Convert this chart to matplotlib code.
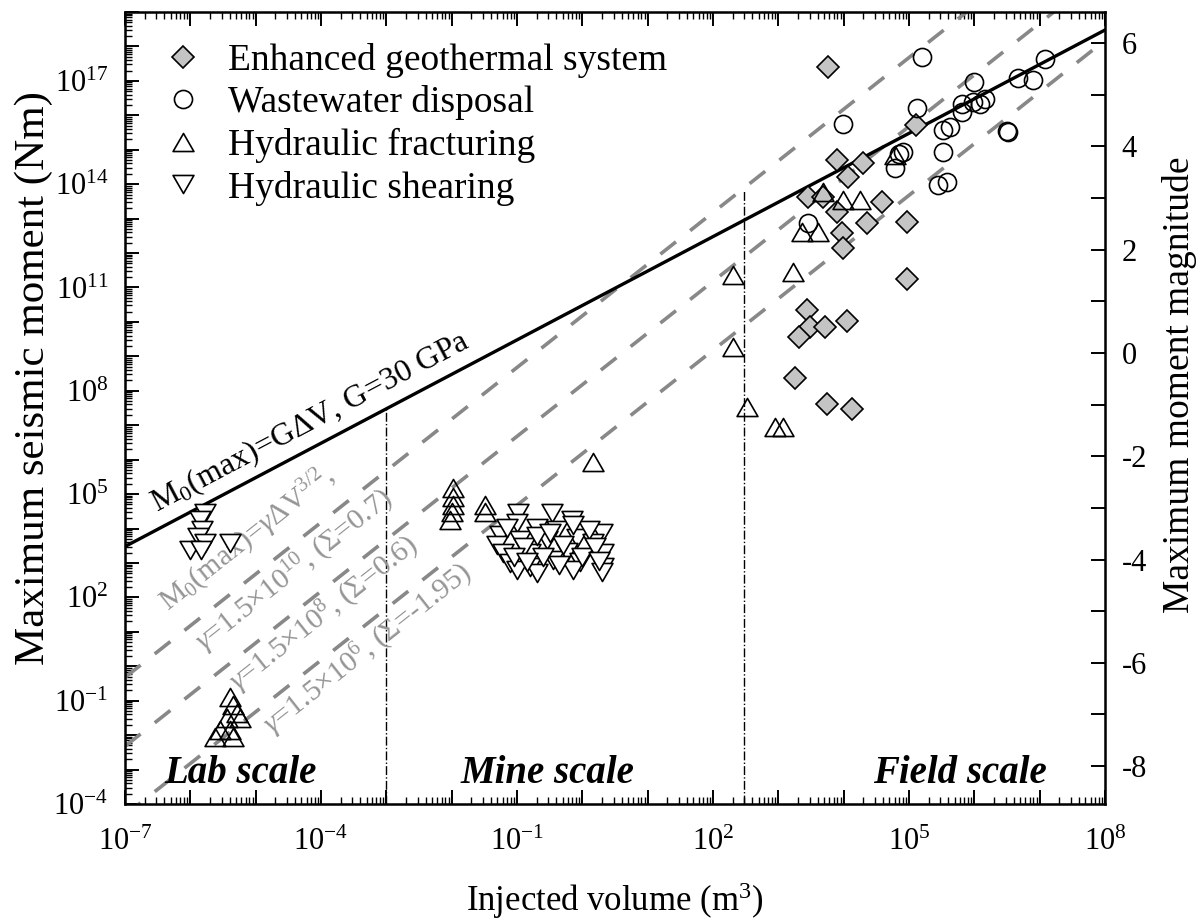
import numpy as np
import matplotlib
matplotlib.use('Agg')
import matplotlib.pyplot as plt
from matplotlib.path import Path
from matplotlib.ticker import FixedLocator, FuncFormatter, LogLocator, MultipleLocator, NullFormatter

plt.rcParams['font.family'] = ['Liberation Serif', 'DejaVu Serif']
plt.rcParams['mathtext.fontset'] = 'custom'
plt.rcParams['mathtext.rm'] = 'Liberation Serif'
plt.rcParams['mathtext.it'] = 'Liberation Serif:italic'
plt.rcParams['mathtext.bf'] = 'Liberation Serif:bold'
plt.rcParams['axes.unicode_minus'] = False

# values stored as log10: injected volume (m3) and max seismic moment (Nm)
egs_logv = [3.76, 5.11, 3.90, 4.30, 4.07, 3.45, 3.68, 3.90, 4.59, 4.36, 3.97,
            3.99, 4.97, 4.97, 3.44, 3.49, 3.71, 4.05, 3.32, 3.26, 3.75, 4.13]
egs_logm = [17.40, 15.73, 14.71, 14.62, 14.21, 13.63, 13.63, 13.20, 13.48, 12.87, 12.59,
            12.15, 12.90, 11.25, 10.34, 9.85, 9.85, 10.03, 9.56, 8.37, 7.62, 7.47]

ww_logv = [5.20, 3.99, 5.12, 6.00, 6.67, 6.90, 7.08, 5.81, 5.81, 5.98, 6.09, 6.16,
           5.52, 5.63, 6.50, 6.52, 5.52, 4.91, 4.85, 4.79, 5.44, 5.58, 3.45]
ww_logm = [17.70, 15.75, 16.22, 16.97, 17.09, 17.03, 17.64, 16.33, 16.10, 16.39, 16.33, 16.48,
           15.58, 15.67, 15.55, 15.52, 14.94, 14.94, 14.88, 14.47, 13.98, 14.07, 12.87]

hf_logv = [-5.39, -5.35, -5.29, -5.44, -5.24, -5.55, -5.39, -5.62, -5.35,
           -1.98, -1.98, -1.98, -2.00, -2.03, -1.49, -1.49, 0.16,
           2.31, 3.22, 2.31, 2.52, 2.95, 3.07, 3.36, 3.61, 3.68, 3.99, 4.25, 4.79]
hf_logm = [-0.89, -1.12, -1.36, -1.51, -1.51, -1.85, -1.85, -2.05, -2.05,
           5.18, 4.91, 4.68, 4.48, 4.25, 4.68, 4.48, 5.93,
           11.36, 11.45, 9.28, 7.53, 6.95, 6.95, 12.61, 12.61, 13.78, 13.54, 13.54, 14.85]

hs_logv = [-5.78, -5.85, -5.82, -5.88, -5.78, -6.00, -5.39, -5.83,
           -0.98, -0.46, -0.16, -1.00, 0.30, -1.26, -0.69, -0.39, -1.31, -0.95, -0.54,
           -0.08, 0.16, -1.21, -0.80, -0.23, 0.32, -1.11, -0.80, -0.45, -0.04, 0.32,
           -1.00, -0.69, -0.14, 0.30, -0.90, -0.60, -0.30, 0.00, -1.15, 0.10, -0.70,
           -0.35, 0.20, -1.05, -0.50, -0.15, -0.85, 0.25]
hs_logm = [4.45, 4.25, 3.95, 3.76, 3.58, 3.38, 3.58, 3.38,
           4.45, 4.45, 4.25, 4.16, 3.87, 3.82, 4.01, 3.95, 3.52, 3.67, 3.67,
           3.73, 3.58, 3.29, 3.29, 3.32, 3.29, 3.00, 2.89, 3.08, 3.03, 2.89,
           2.80, 2.71, 2.80, 2.74, 3.47, 3.17, 3.52, 3.17, 4.01, 3.96, 3.77,
           2.93, 3.47, 3.17, 3.87, 4.11, 3.03, 3.07]

G = 30e9
gammas = [1.5e10, 1.5e8, 1.5e6]
sigmas = ['0.7', '0.6', '-1.95']
gamma_exp = [10, 8, 6]
scale_bounds = [1e-3, 3e2]
bound_tops = [3e7, 7e13]

xlim = (1e-7, 1e8)
ylim = (1e-4, 1e19)


def mw(m0):
    return 2.0 / 3.0 * (np.log10(m0) - 9.1)


W, H = 1204, 924
ax_l, ax_r, ax_t, ax_b = 125, 1105, 12, 804
fig = plt.figure(figsize=(W / 100, H / 100), dpi=100)
ax = fig.add_axes([ax_l / W, (H - ax_b) / H, (ax_r - ax_l) / W, (ax_b - ax_t) / H])
ax.set_xscale('log')
ax.set_yscale('log')
ax.set_xlim(*xlim)
ax.set_ylim(*ylim)

v = np.logspace(-7, 8, 300)
ax.plot(v, G * v, color='black', lw=2.4, zorder=3)
for g in gammas:
    ax.plot(v, g * v ** 1.5, color='#888888', lw=2.6, dashes=(5.5, 5), zorder=2)
for xb, yt in zip(scale_bounds, bound_tops):
    ax.plot([xb, xb], [ylim[0], yt], color='black', lw=1, ls='-.', zorder=2)

tri_up = Path([(0, 0.433), (-0.5, -0.433), (0.5, -0.433), (0, 0.433)], closed=True)
tri_dn = Path([(0, -0.433), (-0.5, 0.433), (0.5, 0.433), (0, -0.433)], closed=True)

ax.plot(10.0 ** np.array(egs_logv), 10.0 ** np.array(egs_logm), ls='none', marker='D', ms=11.5,
        mfc='#c4c4c4', mec='black', mew=1.2, label='Enhanced geothermal system', zorder=4)
ax.plot(10.0 ** np.array(ww_logv), 10.0 ** np.array(ww_logm), ls='none', marker='o', ms=13,
        mfc='none', mec='black', mew=1.2, label='Wastewater disposal', zorder=4)
ax.plot(10.0 ** np.array(hf_logv), 10.0 ** np.array(hf_logm), ls='none', marker=tri_up, ms=15,
        mfc='none', mec='black', mew=1.2, label='Hydraulic fracturing', zorder=4)
ax.plot(10.0 ** np.array(hs_logv), 10.0 ** np.array(hs_logm), ls='none', marker=tri_dn, ms=15,
        mfc='white', mec='black', mew=1.2, label='Hydraulic shearing', zorder=4)

# angles of the lines on screen
dec_x = np.log10(xlim[1] / xlim[0])
dec_y = np.log10(ylim[1] / ylim[0])
k = ((ax_b - ax_t) / dec_y) / ((ax_r - ax_l) / dec_x)
ang1 = np.degrees(np.arctan(k))
ang15 = np.degrees(np.arctan(1.5 * k))

ax.text(10 ** -6.51, 10 ** 4.48, r'M$_0$(max)=G$\Delta$V, G=30 GPa', fontsize=23,
        rotation=ang1, rotation_mode='anchor', ha='left', va='baseline', zorder=5)

gray = '#959595'
ax.text(10 ** -6.34, 10 ** 1.57, r'M$_0$(max)=$\gamma\Delta$V$^{3/2}$,', fontsize=21.5, color=gray,
        rotation=ang15, rotation_mode='anchor', ha='left', va='baseline')
starts = [(-5.78, 0.42), (-5.27, -0.75), (-4.75, -2.00)]
for (sx, sy), ge, sg in zip(starts, gamma_exp, sigmas):
    ax.text(10 ** sx, 10 ** sy, r'$\gamma$=1.5$\times$10$^{%d}$, ($\Sigma$=%s)' % (ge, sg),
            fontsize=21.5, color=gray, rotation=ang15, rotation_mode='anchor',
            ha='left', va='baseline')

for lx, name in [(-5.24, 'Lab scale'), (-0.53, 'Mine scale'), (5.78, 'Field scale')]:
    ax.text(10 ** lx, 10 ** -3.39, name, fontsize=28, fontweight='bold', fontstyle='italic',
            ha='center', va='baseline')


def pow_label(val, pos):
    e = int(round(np.log10(val)))
    return r'$10^{%d}$' % e if e % 3 == 2 else ''


ax.xaxis.set_major_locator(FixedLocator(10.0 ** np.arange(-7, 9)))
ax.yaxis.set_major_locator(FixedLocator(10.0 ** np.arange(-4, 20)))
ax.xaxis.set_major_formatter(FuncFormatter(pow_label))
ax.yaxis.set_major_formatter(FuncFormatter(pow_label))
ax.xaxis.set_minor_locator(LogLocator(base=10, subs=np.arange(2, 10), numticks=200))
ax.yaxis.set_minor_locator(LogLocator(base=10, subs=np.arange(2, 10), numticks=200))
ax.xaxis.set_minor_formatter(NullFormatter())
ax.yaxis.set_minor_formatter(NullFormatter())
ax.tick_params(which='both', direction='in', top=True, right=False, labelsize=22)
ax.tick_params(which='major', length=10, width=1.4)
ax.tick_params(which='minor', length=5, width=1)
ax.tick_params(axis='x', pad=17)
ax.tick_params(axis='y', pad=12)
for s in ax.spines.values():
    s.set_linewidth(1.8)

ax2 = ax.twinx()
ax2.set_ylim(mw(ylim[0]), mw(ylim[1]))
ax2.yaxis.set_major_locator(MultipleLocator(2))
ax2.yaxis.set_minor_locator(MultipleLocator(1))
ax2.tick_params(which='both', direction='in', labelsize=22, pad=12)
ax2.tick_params(which='major', length=10, width=1.4)
ax2.tick_params(which='minor', length=10, width=1.4)
ax2.set_ylabel('Maximum moment magnitude', fontsize=27)
ax2.yaxis.set_label_coords(1.058, 0.529)

ax.set_xlabel(r'Injected volume (m$^3$)', fontsize=25, labelpad=17)
ax.set_ylabel('Maximum seismic moment (Nm)', fontsize=31)
ax.yaxis.set_label_coords(-0.073, 0.538)

ax.legend(loc='upper left', bbox_to_anchor=(0.0398, 0.961), frameon=False, fontsize=27,
          handletextpad=0.7, labelspacing=0.2, borderaxespad=0, borderpad=0,
          handlelength=1.0)

fig.savefig('out.png', dpi=100)
